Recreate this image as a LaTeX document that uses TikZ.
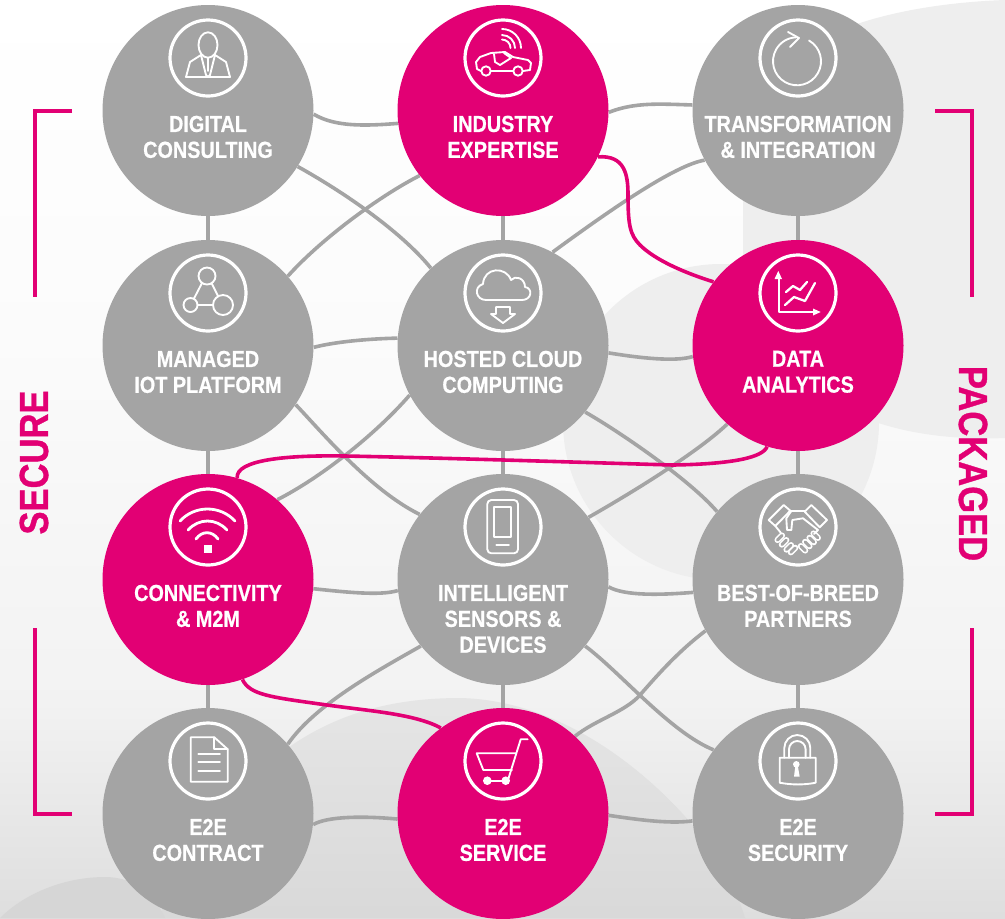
\documentclass[tikz,border=0pt]{standalone}
\usepackage{fontspec}
\usetikzlibrary{backgrounds}
\setmainfont{Liberation Sans}
\newfontfamily\hubfont[FakeStretch=0.855,BoldFeatures={FakeBold=0.6}]{Liberation Sans}
\newfontfamily\sidefont[FakeStretch=0.85,BoldFeatures={FakeBold=0.8}]{Liberation Sans}
\definecolor{hubgrey}{HTML}{A4A4A4}
\definecolor{hubpink}{HTML}{E20074}
\tikzset{
  hub/.style={circle,inner sep=0pt,minimum size=158.25pt},
  hublabel/.style={anchor=north,inner sep=0pt,align=center,text=white,font=\hubfont\bfseries\fontsize{17.4}{19.4}\selectfont},
  ring/.style={circle,draw=white,line width=2.4pt,inner sep=0pt,minimum size=57pt},
  link/.style={draw=hubgrey,line width=2.7pt},
  hot/.style={draw=hubpink,line width=2.7pt},
  bracketline/.style={draw=hubpink,line width=3pt},
  sidelabel/.style={text=hubpink,inner sep=0pt,font=\sidefont\bfseries\fontsize{30.5}{32}\selectfont},
  icon/.style={draw=white,line width=1.4pt,line join=round,line cap=round},
  iconfill/.style={fill=white,draw=none}
}
\newcommand{\hub}[5]{%
  \node[hub,fill=#4] (#1) at (#2,#3) {};
  \node[hublabel] (#1t) at (#2,#3+5) {#5};
  \node[ring] (#1r) at (#2,#3-52.5) {};
}
\newcommand{\finger}[2]{% rounded bar on grey
  \draw[white,line width=4.6pt,line cap=round] (#1) -- (#2);
  \draw[hubgrey,line width=2.2pt,line cap=round] (#1) -- (#2);
}
\begin{document}
\begin{tikzpicture}[x=0.75pt,y=-0.75pt]
\useasboundingbox (0,0) rectangle (1005,918);
\hub{n11}{208}{110.5}{hubgrey}{DIGITAL\\CONSULTING}
\hub{n12}{503}{110.5}{hubpink}{INDUSTRY\\EXPERTISE}
\hub{n13}{798}{110.5}{hubgrey}{TRANSFORMATION\\\& INTEGRATION}
\hub{n21}{208}{345.5}{hubgrey}{MANAGED\\IOT PLATFORM}
\hub{n22}{503}{345.5}{hubgrey}{HOSTED CLOUD\\COMPUTING}
\hub{n23}{798}{345.5}{hubpink}{DATA\\ANALYTICS}
\hub{n31}{208}{579.5}{hubpink}{CONNECTIVITY\\\& M2M}
\hub{n32}{503}{579.5}{hubgrey}{INTELLIGENT\\SENSORS \&\\DEVICES}
\hub{n33}{798}{579.5}{hubgrey}{BEST-OF-BREED\\PARTNERS}
\hub{n41}{208}{813.5}{hubgrey}{E2E\\CONTRACT}
\hub{n42}{503}{813.5}{hubpink}{E2E\\SERVICE}
\hub{n43}{798}{813.5}{hubgrey}{E2E\\SECURITY}
\begin{scope}[on background layer]
% background
\shade[top color=white,bottom color=white!98.5!black] (0,0) rectangle (1005,330);
\shade[top color=white!98.5!black,bottom color=white!95!black] (0,330) rectangle (1005,700);
\shade[top color=white!95!black,bottom color=white!87!black] (0,700) rectangle (1005,918);
\fill[white!93.5!black] (743,300) -- (743,130) .. controls (743,80) and (800,40) .. (860,23) .. controls (900,10) and (950,2) .. (1005,0) -- (1005,438) .. controls (960,440) and (910,435) .. (870,420) -- cycle;
\fill[white!93.5!black] (721,422) circle[radius=158];
\shade[top color=white!90!black,bottom color=white!85!black] (158,918) .. controls (190,850) and (230,790) .. (285,750) .. controls (340,710) and (400,698) .. (460,698) .. controls (560,700) and (650,770) .. (705,840) .. controls (730,880) and (740,900) .. (745,918) -- cycle;
\fill[white!84!black] (0,918) .. controls (25,893) and (65,877) .. (105,877) .. controls (135,877) and (155,895) .. (165,918) -- cycle;
% grey connectors
\draw[link] (n11) -- (n21);
\draw[link] (n21) -- (n31);
\draw[link] (n31) -- (n41);
\draw[link] (n12) -- (n22);
\draw[link] (n22) -- (n32);
\draw[link] (n32) -- (n42);
\draw[link] (n13) -- (n23);
\draw[link] (n23) -- (n33);
\draw[link] (n33) -- (n43);
\draw[link] (n11.-2.5) .. controls (335,127) and (365,126) .. (n12.187.3);
\draw[link] (n12.-1.4) .. controls (635,102) and (660,104) .. (n13.177.5);
\draw[link] (n21.-1) .. controls (330,343) and (360,339) .. (n22.176);
\draw[link] (n22.-4.6) .. controls (640,358) and (675,362) .. (n23.186.8);
\draw[link] (n31.-5) .. controls (345,592) and (380,596) .. (n32.186.8);
\draw[link] (n32.-4.6) .. controls (625,596) and (660,595) .. (n33.187.3);
\draw[link] (n41.-6.3) .. controls (328,816) and (365,816) .. (n42.183);
\draw[link] (n42.-1.4) .. controls (640,820) and (670,824) .. (n43.184);
\draw[link] (n11.-32.6) .. controls (340,190) and (400,230) .. (n22.133.3);
\draw[link] (n12.218) .. controls (385,193) and (325,235) .. (n21.41.8);
\draw[link] (n13.208) .. controls (675,165) and (610,210) .. (n22.62.8);
\draw[link] (n21.-34.4) .. controls (320,430) and (370,490) .. (n32.142.8);
\draw[link] (n22.208.5) .. controls (375,435) and (320,478) .. (n31.49.4);
\draw[link] (n22.-39) .. controls (620,432) and (690,480) .. (n33.140.6);
\draw[link] (n23.228) .. controls (700,450) and (640,488) .. (n32.36.3);
\draw[link] (n32.219) .. controls (375,672) and (315,705) .. (n41.41.4);
\draw[link] (n32.-39.5) .. controls (620,672) and (670,732) .. (n43.143.2);
\draw[link] (n33.209.4) .. controls (680,650) and (660,672) .. (640,695) .. controls (625,712) and (595,720) .. (n42.47.1);
% magenta connectors
\draw[hot] (n12.-26.8) .. controls (625,155) and (628,175) .. (628,195) .. controls (628,225) and (630,235) .. (640,245) .. controls (655,260) and (685,273) .. (n23.143.2);
\draw[hot] (n23.253.5) .. controls (763,457) and (735,464) .. (673,465) .. controls (600,463) and (450,458) .. (345,456) .. controls (285,455) and (236,460) .. (n31.74.2);
\draw[hot] (n31.-71.6) .. controls (250,695) and (270,697) .. (327,705) .. controls (370,711) and (415,714) .. (n42.126.7);
\end{scope}
% brackets
\draw[bracketline] (72,111) -- (35,111) -- (35,297);
\draw[bracketline] (35,628) -- (35,814) -- (72,814);
\draw[bracketline] (935,111) -- (972,111) -- (972,297);
\draw[bracketline] (972,628) -- (972,814) -- (935,814);
\node[sidelabel,rotate=90] (secure) at (34,462.5) {SECURE};
\node[sidelabel,rotate=-90] (packaged) at (973,463.5) {PACKAGED};
% person
\begin{scope}[shift={(n11r.center)},icon]
\draw (0,-13) ellipse[x radius=9.5,y radius=12.7];
\draw (-22,19) -- (-18,4) -- (-7,-3) -- (-2,17) -- (0,19) -- (2,17) -- (7,-3) -- (18,4) -- (22,19) -- cycle;
\draw (0,0) -- (0,13);
\end{scope}
% car
\begin{scope}[shift={(n12r.center)},icon]
\draw (-22,13) -- (-26,11) -- (-27,4) -- (-23,-1) -- (-12,-5) -- (2,-6) -- (10,-1) -- (25,2) -- (28,5) -- (27,12) -- (20,13);
\draw (-9,-4) -- (-8,4) -- (-3,7) -- (8,0) -- (1,-5);
\draw (-12,13) -- (10,13);
\draw (-17,13) circle[radius=4.7];
\draw (15,13) circle[radius=4.7];
\draw (-1,-29) arc[start angle=-90,end angle=0,radius=19];
\draw (-1,-23) arc[start angle=-90,end angle=0,radius=13];
\draw (-1,-18.5) arc[start angle=-90,end angle=0,radius=8.5];
\end{scope}
% rotate
\begin{scope}[shift={(n13r.center)},icon]
\draw (11,-17.5) arc[start angle=-60,end angle=268,radius=24];
\draw (-10,-26) -- (1,-20) -- (-8,-11);
\end{scope}
% network
\begin{scope}[shift={(n21r.center)},icon]
\draw (-1,-17) circle[radius=8.5];
\draw (-17.5,12) circle[radius=7];
\draw (15,12) circle[radius=10];
\draw (-6,-10) -- (-14,5.5);
\draw (3.5,-10) -- (10,3);
\draw (-10.5,12) -- (5,12);
\end{scope}
% cloud
\begin{scope}[shift={(n22r.center)},icon]
\draw (-17,7) .. controls (-27,7) and (-30,-6) .. (-20,-9) .. controls (-19,-26) and (3,-27) .. (8,-13) .. controls (12,-18) and (22,-15) .. (22,-6) .. controls (30,-5) and (29,7) .. (19,7) -- cycle;
\draw (-7,14) -- (7,14) -- (7,21) -- (12,21) -- (0,30) -- (-12,21) -- (-7,21) -- cycle;
\end{scope}
% chart
\begin{scope}[shift={(n23r.center)},icon]
\draw (-19,-16) -- (-19,19) -- (17,19);
\fill[iconfill] (-19.7,-22) -- (-23.5,-14) -- (-16,-14) -- cycle;
\fill[iconfill] (22.7,19) -- (15,15.5) -- (15,22.5) -- cycle;
\draw[line width=1.7pt] (-12,-1) -- (-5,-7) -- (2,-3) -- (9,-11);
\draw[line width=1.7pt] (-13,12) -- (-4,4) -- (7,8) -- (17,-10);
\end{scope}
% wifi
\begin{scope}[shift={(n31r.center)},icon,line width=2.1pt]
\draw (-28,-6) .. controls (-13,-22) and (12,-22) .. (27,-6);
\draw (-20,3) .. controls (-9,-9) and (8,-9) .. (19,3);
\draw (-12,12) .. controls (-6,3.6) and (4,3.6) .. (10,12);
\fill[iconfill] (-4.3,18) rectangle (3.7,25.7);
\end{scope}
% phone
\begin{scope}[shift={(n32r.center)},icon]
\draw[rounded corners=3] (-15.7,-27) rectangle (15,26.3);
\draw (-9,-20.3) rectangle (8.3,9.7);
\draw (-6.7,18) -- (6,18);
\end{scope}
% handshake
\begin{scope}[shift={(n33r.center)},icon]
\finger{-20.5,13}{-16,8.5}
\finger{-16.2,17.6}{-11.7,13.1}
\finger{-11.5,22.6}{-7,18.1}
\finger{-7.2,25.3}{-2.7,20.8}
\finger{2.8,19.1}{7.2,23.5}
\finger{7.1,14.8}{11.5,19.2}
\finger{11.5,10.8}{15.9,15.2}
\finger{15.5,6.5}{19.9,10.9}
\draw (-29.3,-7) -- (-14.3,-22) -- (-7.7,-16.3) -- (-22.7,-1) -- cycle;
\draw (13.3,-22) -- (29,-7) -- (21.7,0.3) -- (6.7,-15.3) -- cycle;
\draw (-8,-16.3) -- (6.7,-16.3);
\draw (-6.7,-16) -- (-11.7,-8.7) -- (-11,3) -- (-6.7,3) -- (-5.7,-7) -- (5,-8.7) -- (20,3);
\draw (-22.7,-1) -- (-17,6);
\draw (20,3) -- (16,7);
\end{scope}
% document
\begin{scope}[shift={(n41r.center)},icon]
\draw (-17.3,-23.7) -- (6.3,-23.7) -- (19.7,-11.7) -- (19.7,20.7) -- (-17.3,20.7) -- cycle;
\draw (6.3,-23.7) -- (6.3,-11.7) -- (19.7,-11.7);
\draw (-9.7,-6.7) -- (12,-6.7);
\draw (-9.7,1.3) -- (12,1.3);
\draw (-9.7,9.7) -- (12,9.7);
\end{scope}
% cart
\begin{scope}[shift={(n42r.center)},icon]
\draw (24.7,-21.7) -- (17.7,-21.7) -- (5.3,18);
\draw (13,-7.7) -- (-26.3,-7.7) -- (-19.7,9) -- (9,9);
\draw (-15.7,19.7) -- (2.7,19.7);
\fill[iconfill] (-15.7,19.7) circle[radius=4.3];
\fill[iconfill] (2.7,19.7) circle[radius=4.3];
\end{scope}
% lock
\begin{scope}[shift={(n43r.center)},icon]
\draw (-18.3,-3.3) -- (17.7,-3.3) -- (17.7,21.7) .. controls (6,24) and (-6,24) .. (-18.3,21.7) -- cycle;
\draw (-13.7,-3.3) -- (-13.7,-13) arc[start angle=180,end angle=360,radius=13] -- (12.3,-3.3);
\draw (-9,-3.3) -- (-9,-11.7) arc[start angle=180,end angle=360,radius=8.3] -- (7.6,-3.3);
\fill[iconfill] (-1.7,3.3) circle[radius=3.3];
\fill[iconfill] (-2.5,3.3) -- (-4,15.7) -- (1.7,15.7) -- (-0.5,3.3) -- cycle;
\end{scope}
\end{tikzpicture}
\end{document}
